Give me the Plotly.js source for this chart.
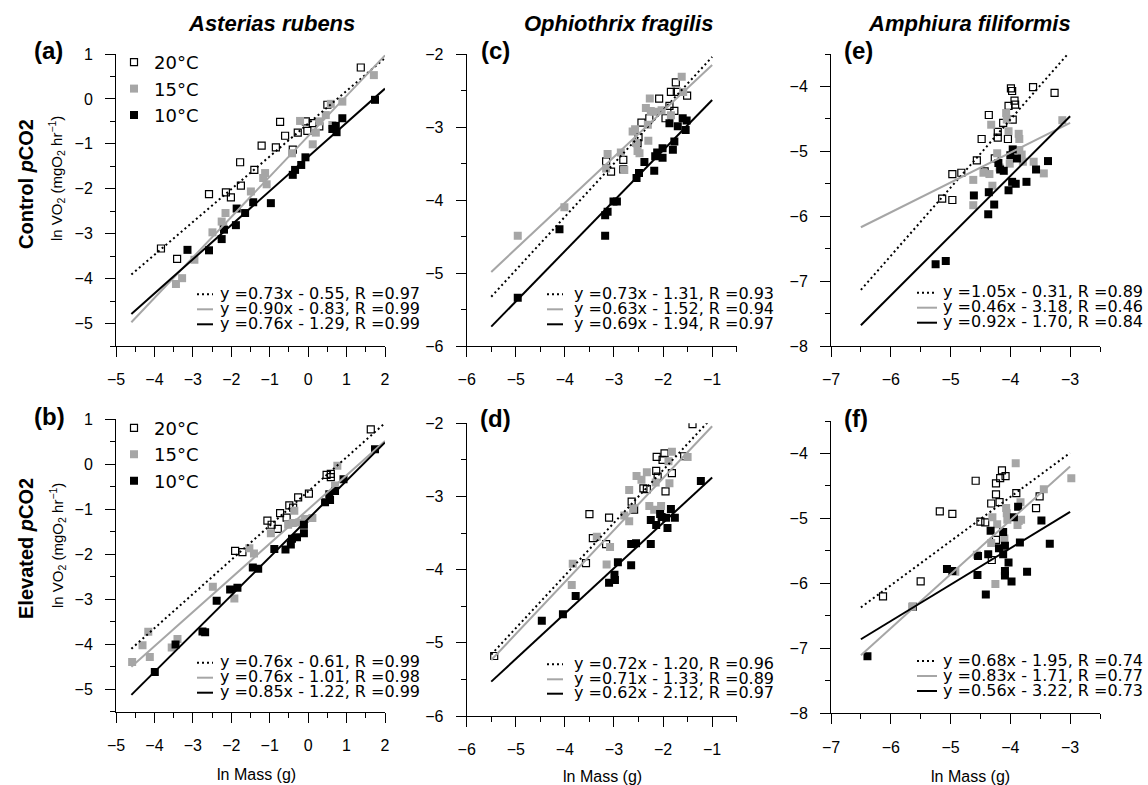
<!DOCTYPE html>
<html><head><meta charset="utf-8">
<script src="https://cdn.plot.ly/plotly-3.0.1.min.js"></script>
<style>html,body{margin:0;padding:0;background:#fff}#chart{width:1148px;height:785px}</style>
</head><body><div id="chart"></div>
<script>
// ---------- DATA ----------
const tempLabels = ['20°C', '15°C', '10°C'];
const speciesNames = ['Asterias rubens', 'Ophiothrix fragilis', 'Amphiura filiformis'];
const rowLabels = ['Control', 'Elevated'];
const panelLetters = ['(a)', '(b)', '(c)', '(d)', '(e)', '(f)'];

// Panel (a) Asterias rubens, control pCO2
const a20x = [-3.83,-3.41,-2.58,-2.14,-2.01,-1.77,-1.75,-1.40,-1.21,-0.84,-0.73,-0.60,-0.40,-0.27,-0.06,-0.02,0.12,0.29,0.50,1.37];
const a20y = [-3.33,-3.56,-2.12,-2.08,-2.19,-1.41,-1.93,-1.58,-1.04,-1.08,-0.51,-0.82,-1.13,-0.75,-0.50,-0.71,-0.54,-0.61,-0.13,0.70];
const a15x = [-3.44,-3.28,-2.96,-2.49,-2.25,-2.15,-2.21,-1.49,-1.17,-1.12,-1.08,-0.42,-0.21,0.12,0.20,0.29,0.46,0.59,0.63,0.89,1.71];
const a15y = [-4.12,-3.99,-3.58,-2.97,-2.73,-2.54,-2.84,-2.06,-1.76,-1.65,-1.90,-1.21,-0.49,-1.01,-0.75,-0.50,-0.36,-0.11,-0.58,-0.06,0.53];
const a10x = [-3.14,-2.58,-2.25,-2.19,-1.88,-1.86,-1.64,-1.43,-0.97,-0.40,-0.34,-0.18,-0.07,0.63,0.72,0.74,0.89,1.74];
const a10y = [-3.36,-3.37,-3.12,-2.91,-2.81,-2.44,-2.54,-2.30,-2.32,-1.69,-1.58,-1.47,-1.30,-0.67,-0.60,-0.74,-0.43,-0.02];

// Panel (b) Asterias rubens, elevated pCO2
const b20x = [-1.90,-1.71,-1.06,-0.95,-0.79,-0.73,-0.56,-0.49,-0.39,-0.26,0.02,0.48,0.59,0.59,1.63];
const b20y = [-1.93,-1.96,-1.26,-1.35,-1.44,-1.09,-1.19,-0.92,-0.97,-0.74,-0.66,-0.24,-0.22,-0.29,0.77];
const b15x = [-4.58,-4.31,-4.16,-4.12,-3.55,-3.40,-2.48,-1.92,-1.53,-1.41,-0.97,-0.52,-0.40,-0.36,-0.24,-0.08,0.11,0.76,0.70];
const b15y = [-4.40,-4.03,-3.73,-4.29,-4.08,-3.89,-2.73,-2.99,-1.87,-1.99,-1.54,-1.35,-1.31,-1.04,-1.30,-1.22,-1.20,-0.04,-0.48];
const b10x = [-3.99,-3.45,-2.75,-2.68,-2.38,-2.03,-1.84,-1.44,-1.30,-0.88,-0.59,-0.45,-0.42,-0.29,-0.11,-0.11,0.44,0.55,0.57,0.70,0.92,1.74];
const b10y = [-4.62,-4.01,-3.72,-3.74,-3.04,-2.79,-2.75,-2.30,-2.33,-1.89,-1.90,-1.79,-1.66,-1.63,-1.54,-1.35,-0.85,-0.67,-0.80,-0.60,-0.34,0.33];

// Panel (c) Ophiothrix fragilis, control pCO2
const c20x = [-3.16,-3.06,-2.81,-2.81,-2.50,-2.52,-2.44,-2.28,-2.08,-1.95,-1.87,-1.84,-1.77,-1.74,-1.72,-1.51];
const c20y = [-3.47,-3.61,-3.45,-3.58,-3.14,-3.22,-2.94,-2.88,-2.61,-2.88,-2.71,-2.52,-2.78,-2.39,-2.52,-2.57];
const c15x = [-4.96,-4.01,-3.13,-3.16,-2.86,-2.79,-2.62,-2.57,-2.55,-2.52,-2.48,-2.35,-2.31,-2.30,-2.27,-2.25,-2.18,-2.03,-1.84,-1.62,-1.59];
const c15y = [-4.49,-4.10,-3.37,-3.57,-3.35,-3.59,-3.06,-3.03,-3.22,-3.33,-3.36,-2.74,-2.97,-3.19,-2.61,-2.78,-2.79,-2.77,-2.84,-2.31,-2.52];
const c10x = [-4.96,-4.11,-3.18,-3.13,-3.18,-3.01,-2.94,-2.54,-2.49,-2.38,-2.18,-2.16,-2.12,-2.01,-2.01,-1.87,-1.80,-1.77,-1.70,-1.60,-1.52,-1.54];
const c10y = [-5.34,-4.40,-4.21,-4.16,-4.49,-4.02,-4.02,-3.70,-3.63,-3.48,-3.60,-3.40,-3.35,-3.42,-3.29,-2.95,-3.31,-3.20,-2.99,-2.88,-2.91,-3.04];

// Panel (d) Ophiothrix fragilis, elevated pCO2
const d20x = [-5.44,-3.50,-3.43,-3.57,-3.10,-3.16,-2.64,-2.59,-2.40,-2.33,-2.14,-2.13,-2.11,-2.01,-1.97,-1.95,-1.82,-1.57,-1.40];
const d20y = [-5.18,-3.24,-3.57,-3.91,-3.29,-3.65,-3.07,-3.18,-2.89,-2.90,-2.65,-2.46,-2.73,-2.50,-2.41,-2.93,-2.68,-2.45,-2.01];
const d15x = [-3.84,-3.86,-3.35,-3.08,-3.15,-2.79,-2.69,-2.69,-2.61,-2.54,-2.44,-2.33,-2.28,-2.18,-2.15,-2.04,-1.87,-1.89,-1.82,-1.50];
const d15y = [-3.92,-4.21,-3.55,-3.69,-3.93,-3.26,-2.91,-3.34,-3.16,-2.72,-2.77,-2.67,-3.13,-3.18,-2.81,-3.13,-2.82,-2.52,-2.39,-2.46];
const d10x = [-4.47,-4.04,-3.78,-3.10,-2.99,-2.98,-2.92,-2.65,-2.65,-2.55,-2.25,-2.25,-2.14,-2.06,-2.03,-1.94,-1.91,-1.84,-1.76,-1.23];
const d10y = [-4.70,-4.61,-4.36,-4.18,-4.07,-4.14,-3.90,-3.94,-3.65,-3.64,-3.65,-3.32,-3.39,-3.24,-3.28,-3.29,-3.43,-3.17,-3.29,-2.79];

// Panel (e) Amphiura filiformis, control pCO2
const e20x = [-5.14,-4.97,-4.97,-4.82,-4.56,-4.48,-4.43,-4.36,-4.26,-4.21,-4.21,-4.12,-4.04,-4.03,-3.99,-3.97,-3.96,-3.93,-3.92,-3.62,-3.26];
const e20y = [-5.73,-5.75,-5.35,-5.33,-5.14,-4.81,-5.31,-4.44,-5.11,-4.70,-4.79,-4.56,-4.81,-4.30,-4.03,-4.07,-4.51,-4.22,-4.28,-4.01,-4.10];
const e15x = [-4.62,-4.62,-4.45,-4.35,-4.32,-4.30,-4.22,-4.18,-4.07,-4.06,-4.03,-4.01,-3.86,-3.85,-3.85,-3.81,-3.79,-3.61,-3.44,-3.13];
const e15y = [-5.44,-5.83,-5.33,-5.35,-4.59,-5.53,-5.03,-5.25,-4.41,-4.51,-4.69,-5.19,-4.73,-4.81,-4.98,-5.05,-5.16,-5.16,-5.34,-4.52];
const e10x = [-5.25,-5.08,-4.61,-4.37,-4.36,-4.27,-4.20,-4.17,-4.11,-4.03,-4.00,-3.96,-3.97,-3.91,-3.89,-3.73,-3.57,-3.37];
const e10y = [-6.74,-6.69,-5.68,-5.97,-5.63,-5.82,-5.18,-5.28,-5.30,-5.60,-5.06,-4.97,-5.47,-5.50,-5.11,-5.47,-5.28,-5.15];

// Panel (f) Amphiura filiformis, elevated pCO2
const f20x = [-6.13,-5.63,-5.50,-5.18,-4.97,-4.58,-4.50,-4.42,-4.32,-4.31,-4.24,-4.24,-4.24,-4.18,-4.17,-4.14,-4.08,-3.90,-3.57,-3.51];
const f20y = [-6.20,-6.36,-5.97,-4.89,-4.93,-4.42,-5.05,-5.06,-4.77,-5.64,-4.46,-4.63,-5.33,-4.75,-4.38,-4.26,-4.35,-4.61,-4.84,-4.66];
const f15x = [-5.64,-4.92,-4.56,-4.32,-4.30,-4.25,-4.22,-4.10,-4.07,-4.05,-4.06,-3.91,-3.88,-3.86,-3.83,-3.82,-3.44,-2.98];
const f15y = [-6.36,-5.82,-5.56,-5.38,-4.98,-6.01,-5.09,-5.31,-4.84,-5.02,-4.92,-4.15,-5.10,-5.04,-4.75,-5.02,-4.55,-4.38];
const f10x = [-6.39,-5.06,-4.97,-4.54,-4.55,-4.41,-4.37,-4.33,-4.19,-4.12,-4.12,-4.09,-4.09,-4.09,-4.03,-3.98,-3.94,-3.87,-3.84,-3.72,-3.48,-3.34];
const f10y = [-7.12,-5.78,-5.81,-5.58,-5.87,-6.17,-5.55,-5.19,-5.46,-5.21,-5.55,-5.42,-5.81,-5.88,-5.68,-5.97,-4.98,-4.82,-5.37,-5.82,-5.03,-5.39];

// Regression fits per panel: [20°C, 15°C, 10°C]
const slopeA = [0.73, 0.90, 0.76], interceptA = [-0.55, -0.83, -1.29], rA = [0.97, 0.99, 0.99];
const slopeB = [0.76, 0.76, 0.85], interceptB = [-0.61, -1.01, -1.22], rB = [0.99, 0.98, 0.99];
const slopeC = [0.73, 0.63, 0.69], interceptC = [-1.31, -1.52, -1.94], rC = [0.93, 0.94, 0.97];
const slopeD = [0.72, 0.71, 0.62], interceptD = [-1.20, -1.33, -2.12], rD = [0.96, 0.89, 0.97];
const slopeE = [1.05, 0.46, 0.92], interceptE = [-0.31, -3.18, -1.70], rE = [0.89, 0.46, 0.84];
const slopeF = [0.68, 0.83, 0.56], interceptF = [-1.95, -1.71, -3.22], rF = [0.74, 0.77, 0.73];
// x extent of fitted lines (ln Mass)
const fitRangeA = [-4.6, 2.0], fitRangeB = [-4.6, 2.0];
const fitRangeC = [-5.5, -1.0], fitRangeD = [-5.5, -1.0];
const fitRangeE = [-6.5, -3.0], fitRangeF = [-6.5, -3.0];

// ---------- LAYOUT HELPERS ----------
const W = 1148, H = 785;
const GRAY = '#a6a6a6';
const SANS = 'Liberation Sans, Arial, sans-serif';
const EQF = 'DejaVu Sans, sans-serif';
const px = v => v / W, py = v => 1 - v / H;

const panels = [
  {k:'a', xa:'x',  ya:'y',  pxr:[116,385],   pyr:[54,346],    xr:[-5,2],    yr:[-5.5,1],
   d:[[a20x,a20y],[a15x,a15y],[a10x,a10y]], m:slopeA, b:interceptA, r:rA, fr:fitRangeA,
   eqX:217.7, sX:[197,213], eqY:[293.3,308.3,323.3], letter:[48,51], legend:'legend'},
  {k:'b', xa:'x2', ya:'y2', pxr:[116,385],   pyr:[419,711.5], xr:[-5,2],    yr:[-5.5,1],
   d:[[b20x,b20y],[b15x,b15y],[b10x,b10y]], m:slopeB, b:interceptB, r:rB, fr:fitRangeB,
   eqX:217.7, sX:[197,213], eqY:[661.7,676.7,691.7], letter:[49,416], legend:'legend2'},
  {k:'c', xa:'x3', ya:'y3', pxr:[466.7,736.7], pyr:[54,346],  xr:[-6,-0.5], yr:[-6,-2],
   d:[[c20x,c20y],[c15x,c15y],[c10x,c10y]], m:slopeC, b:interceptC, r:rC, fr:fitRangeC,
   eqX:571.7, sX:[547,563], eqY:[293.3,308.3,323.3], letter:[495,51]},
  {k:'d', xa:'x4', ya:'y4', pxr:[466.7,736.7], pyr:[423.3,716], xr:[-6,-0.5], yr:[-6,-2],
   d:[[d20x,d20y],[d15x,d15y],[d10x,d10y]], m:slopeD, b:interceptD, r:rD, fr:fitRangeD,
   eqX:571.7, sX:[547,563], eqY:[663.3,678.3,692.7], letter:[495,418]},
  {k:'e', xa:'x5', ya:'y5', pxr:[831,1100],  pyr:[54,346],    xr:[-7,-2.5], yr:[-8,-3.5],
   d:[[e20x,e20y],[e15x,e15y],[e10x,e10y]], m:slopeE, b:interceptE, r:rE, fr:fitRangeE,
   eqX:941, sX:[917,937], eqY:[291.7,306.7,321.7], letter:[858,51]},
  {k:'f', xa:'x6', ya:'y6', pxr:[831,1100],  pyr:[421,713.3], xr:[-7,-2.5], yr:[-8,-3.5],
   d:[[f20x,f20y],[f15x,f15y],[f10x,f10y]], m:slopeF, b:interceptF, r:rF, fr:fitRangeF,
   eqX:941, sX:[917,937], eqY:[660,675,690], letter:[856,418]}
];

const markerStyles = [
  {symbol:'square-open', size:7, color:'#000', line:{width:1.2, color:'#000'}},
  {symbol:'square', size:8, color:GRAY, line:{width:0}},
  {symbol:'square', size:8, color:'#000', line:{width:0}}
];
const lineStyles = [
  {color:'#000', width:2, dash:'2px,3px'},
  {color:GRAY, width:2, dash:'solid'},
  {color:'#000', width:2, dash:'solid'}
];

const traces = [];
const layout = {
  width: W, height: H, margin:{l:0, r:0, t:0, b:0},
  paper_bgcolor:'#fff', plot_bgcolor:'#fff', hovermode:false,
  font:{family:SANS, color:'#000'},
  annotations:[], shapes:[]
};

function axisName(a){ return a === 'x' ? 'xaxis' : a === 'y' ? 'yaxis' : (a[0] + 'axis' + a.slice(1)); }

function baseAxis(range, domain, anchor, standoff){
  return {
    range, domain, anchor, showgrid:false, zeroline:false,
    showline:true, linecolor:'#000', linewidth:1,
    ticks:'outside', ticklen:10, tickwidth:1, tickcolor:'#000',
    tick0:0, dtick:1, ticklabelstandoff:standoff,
    tickfont:{family:SANS, size:16, color:'#000'},
    minor:{tick0:0, dtick:0.5, ticks:'outside', ticklen:5, tickwidth:1, tickcolor:'#000', showgrid:false},
    fixedrange:true
  };
}

panels.forEach((p, pi) => {
  layout[axisName(p.xa)] = baseAxis(p.xr, [px(p.pxr[0]), px(p.pxr[1])], p.ya, 9);
  layout[axisName(p.ya)] = baseAxis(p.yr, [py(p.pyr[1]), py(p.pyr[0])], p.xa, 9);

  // scatter points
  p.d.forEach((xy, i) => {
    const ms = markerStyles[i];
    traces.push({
      type:'scatter', mode:'markers', x:xy[0], y:xy[1], xaxis:p.xa, yaxis:p.ya,
      name: tempLabels[i], legend: p.legend || 'legend', showlegend: !!p.legend,
      marker:{symbol:ms.symbol, size:ms.size, color:ms.color, line:ms.line},
      cliponaxis:true
    });
  });
  // regression lines from fitted equations
  for (let i = 0; i < 3; i++) {
    const xs = p.fr.slice();
    const ys = xs.map(x => p.m[i] * x + p.b[i]);
    traces.push({
      type:'scatter', mode:'lines', x:xs, y:ys, xaxis:p.xa, yaxis:p.ya,
      showlegend:false, line:lineStyles[i]
    });
    // equation text
    const eq = 'y =' + p.m[i].toFixed(2) + 'x - ' + Math.abs(p.b[i]).toFixed(2) + ', R =' + p.r[i].toFixed(2);
    layout.annotations.push({
      xref:'paper', yref:'paper', x:px(p.eqX), y:py(p.eqY[i]), xanchor:'left', yanchor:'middle',
      text:eq, showarrow:false, font:{family:EQF, size:16, color:'#000'}
    });
    // legend line sample
    layout.shapes.push({
      type:'line', xref:'paper', yref:'paper',
      x0:px(p.sX[0]), x1:px(p.sX[1]), y0:py(p.eqY[i] + 1), y1:py(p.eqY[i] + 1),
      line:{color:lineStyles[i].color, width:2, dash:lineStyles[i].dash}
    });
  }
  // panel letter
  layout.annotations.push({
    xref:'paper', yref:'paper', x:px(p.letter[0]), y:py(p.letter[1]), xanchor:'center', yanchor:'middle',
    text:'<b>' + panelLetters[pi] + '</b>', showarrow:false, font:{family:SANS, size:24, color:'#000'}
  });
});

// column titles
[[271, speciesNames[0]], [618, speciesNames[1]], [969, speciesNames[2]]].forEach(t => {
  layout.annotations.push({xref:'paper', yref:'paper', x:px(t[0]), y:py(24), xanchor:'center', yanchor:'middle',
    text:'<b><i>' + t[1] + '</i></b>', showarrow:false, font:{family:SANS, size:22, color:'#000'}});
});
// row labels
[[184, rowLabels[0]], [549, rowLabels[1]]].forEach(t => {
  layout.annotations.push({xref:'paper', yref:'paper', x:px(26), y:py(t[0]), xanchor:'center', yanchor:'middle',
    textangle:-90, text:'<b>' + t[1] + ' <i>p</i>CO2</b>', showarrow:false, font:{family:SANS, size:20, color:'#000'}});
});
// y-axis titles
[179, 546].forEach(yc => {
  layout.annotations.push({xref:'paper', yref:'paper', x:px(57), y:py(yc), xanchor:'center', yanchor:'middle',
    textangle:-90, text:'ln VO<sub>2</sub> (mgO<sub>2</sub> hr<sup>−1</sup>)', showarrow:false,
    font:{family:SANS, size:15, color:'#000'}});
});
// x-axis titles
[[256, 774], [602, 776], [970, 776]].forEach(t => {
  layout.annotations.push({xref:'paper', yref:'paper', x:px(t[0]), y:py(t[1]), xanchor:'center', yanchor:'middle',
    text:'ln Mass (g)', showarrow:false, font:{family:SANS, size:16, color:'#000'}});
});

const legendBase = {xref:'paper', yref:'paper', xanchor:'left', yanchor:'top', bgcolor:'rgba(0,0,0,0)',
  borderwidth:0, itemwidth:30, font:{family:EQF, size:18, color:'#000'}, tracegroupgap:0};
layout.legend = Object.assign({}, legendBase, {x:px(114), y:py(44)});
layout.legend2 = Object.assign({}, legendBase, {x:px(114), y:py(409.7)});

Plotly.newPlot('chart', traces, layout, {staticPlot:true, displayModeBar:false});
</script></body></html>
